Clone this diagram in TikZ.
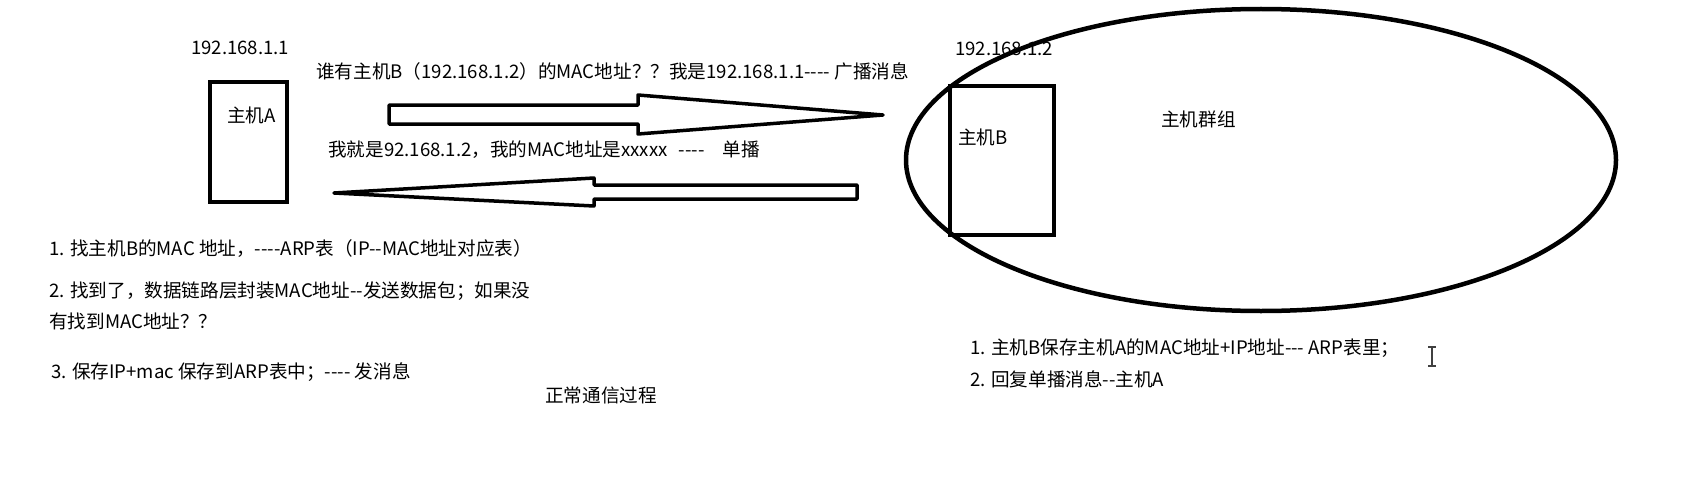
\documentclass[tikz,border=0pt]{standalone}
\usepackage{fontspec}
\setmainfont{Noto Sans CJK SC}[Ligatures=TeXOff]
\begin{document}
\begin{tikzpicture}[x=1pt,y=-1pt,
  lbl/.style={anchor=west,inner sep=0pt,font=\fontsize{18.6}{20}\selectfont},
  hostbox/.style={draw,line width=4pt,inner sep=0pt},
  blockarrow/.style={draw,line width=3.5pt,line join=round,fill=white}]
\useasboundingbox (0,0) rectangle (1682,487);
% host group ellipse
\draw[line width=4.5pt] (1261,160) ellipse [x radius=355, y radius=151];
% hosts
\node[hostbox,minimum width=77pt,minimum height=120pt] (A) at (248.5,142) {};
\node[hostbox,minimum width=104pt,minimum height=149pt] (B) at (1002,160.5) {};
\node[lbl] (ipA) at (191,48) {192.168.1.1};
\node[lbl] (nA) at (227,115) {主机A};
\node[lbl] (ipB) at (955,49) {192.168.1.2};
\node[lbl] (nB) at (958,137) {主机B};
\node[lbl] (grp) at (1161,119) {主机群组};
% messages
\node[lbl] (req) at (316,71) {谁有主机B（192.168.1.2）的MAC地址？？我是192.168.1.1---- 广播消息};
\node[lbl] (rep) at (328,150) {我就是92.168.1.2，我的MAC地址是xxxxx\hspace{11pt}----\hspace{18pt}单播};
% block arrows
\draw[blockarrow] (389,105) -- (638,105) -- (638,95) -- (883,115) -- (638,134) -- (638,124) -- (389,124) -- cycle;
\draw[blockarrow] (857,185) -- (594,185) -- (594,178) -- (334,193) -- (594,206) -- (594,199) -- (857,199) -- cycle;
% notes left
\node[lbl] (s1) at (49,249) {1. 找主机B的MAC 地址，----ARP表（IP--MAC地址对应表）};
\node[lbl] (s2) at (49,291) {2. 找到了，数据链路层封装MAC地址--发送数据包；如果没};
\node[lbl] (s2b) at (49,321) {有找到MAC地址？？};
\node[lbl] (s3) at (51,372) {3. 保存IP+mac 保存到ARP表中；---- 发消息};
\node[lbl] (cap) at (545,395) {正常通信过程};
% notes right
\node[lbl] (r1) at (970,348) {1. 主机B保存主机A的MAC地址+IP地址--- ARP表里；};
\node[lbl] (r2) at (970,379) {2. 回复单播消息--主机A};
% text cursor
\draw[line width=1.2pt,black!75] (1432,347) -- (1432,366)
  (1428,347) -- (1436,347) (1428,366) -- (1436,366);
\end{tikzpicture}
\end{document}
